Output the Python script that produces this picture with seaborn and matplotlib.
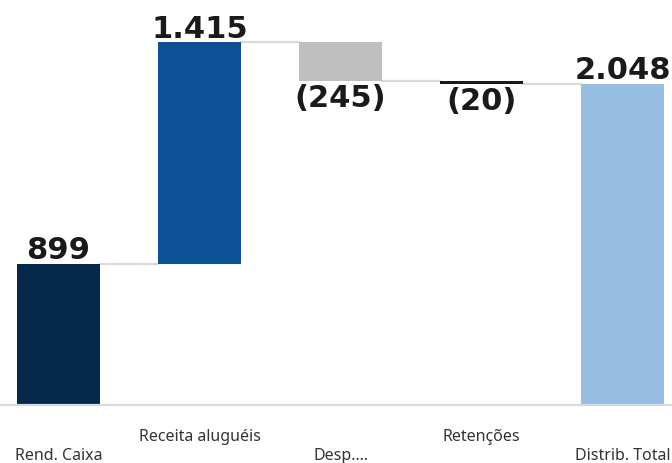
import numpy as np
import matplotlib
matplotlib.use("Agg")
import matplotlib.pyplot as plt
import matplotlib.transforms as mtransforms
import seaborn as sns

# dados do gráfico (waterfall)
categorias = ["Rend. Caixa", "Receita aluguéis", "Desp.…", "Retenções", "Distrib. Total"]
valores = [899, 1415, -245, -20, 2048]
tipo = ["total", "delta", "delta", "delta", "total"]
rotulos = ["899", "1.415", "(245)", "(20)", "2.048"]
cores = ["#06284a", "#0c5196", "#bfbfbf", "#1a1a1a", "#97bde2"]

# calcula bases e alturas
bases, alturas, niveis = [], [], []
acum = 0
for v, t in zip(valores, tipo):
    if t == "total":
        bases.append(0)
        alturas.append(v)
        acum = v
    else:
        bases.append(acum)
        alturas.append(v)
        acum = acum + v
    niveis.append(acum)

sns.set_theme(style="white")
plt.rcParams["font.family"] = ["Noto Sans", "DejaVu Sans"]

fig = plt.figure(figsize=(6.72, 4.64), dpi=100)
ax = fig.add_axes([0, 58 / 464, 1, 406 / 464])

largura = 0.59
sns.barplot(x=categorias, y=alturas, hue=categorias, order=categorias,
            palette=cores, legend=False, width=largura, ax=ax,
            saturation=1, linewidth=0)

# desloca cada barra para sua base (cascata)
for p in ax.patches:
    i = int(round(p.get_x() + p.get_width() / 2))
    p.set_y(bases[i])
    p.set_height(alturas[i])

# linhas de ligação
for i in range(len(categorias) - 1):
    ax.plot([i + largura / 2, i + 1 - largura / 2], [niveis[i], niveis[i]],
            color="#d9d9d9", lw=1.6, zorder=0)

# rótulos dos valores
for i, (b, h, r) in enumerate(zip(bases, alturas, rotulos)):
    if h >= 0:
        ax.annotate(r, (i, b + h), xytext=(0, 4), textcoords="offset points",
                    ha="center", va="baseline", fontsize=22, fontweight="bold",
                    family="DejaVu Sans", color="#1a1a1a")
    else:
        ax.annotate(r, (i, b + h), xytext=(0, -2), textcoords="offset points",
                    ha="center", va="top", fontsize=22, fontweight="bold",
                    family="DejaVu Sans", color="#1a1a1a")

ax.set_xlim(-0.415, 4.351)
ax.set_ylim(0, 2589)
ax.set_xticks([])
ax.set_yticks([])
ax.set_xlabel("")
ax.set_ylabel("")

# rótulos do eixo x escalonados
trans = mtransforms.blended_transform_factory(ax.transData, ax.transAxes)
for i, c in enumerate(categorias):
    y = -0.123 if i % 2 == 0 else -0.076
    ax.text(i, y, c, transform=trans, ha="center", va="center",
            fontsize=11.5, color="#333333")

for s in ["left", "right", "top"]:
    ax.spines[s].set_visible(False)
ax.spines["bottom"].set_color("#d9d9d9")
ax.spines["bottom"].set_linewidth(1.6)

fig.savefig("out.png", dpi=100)
